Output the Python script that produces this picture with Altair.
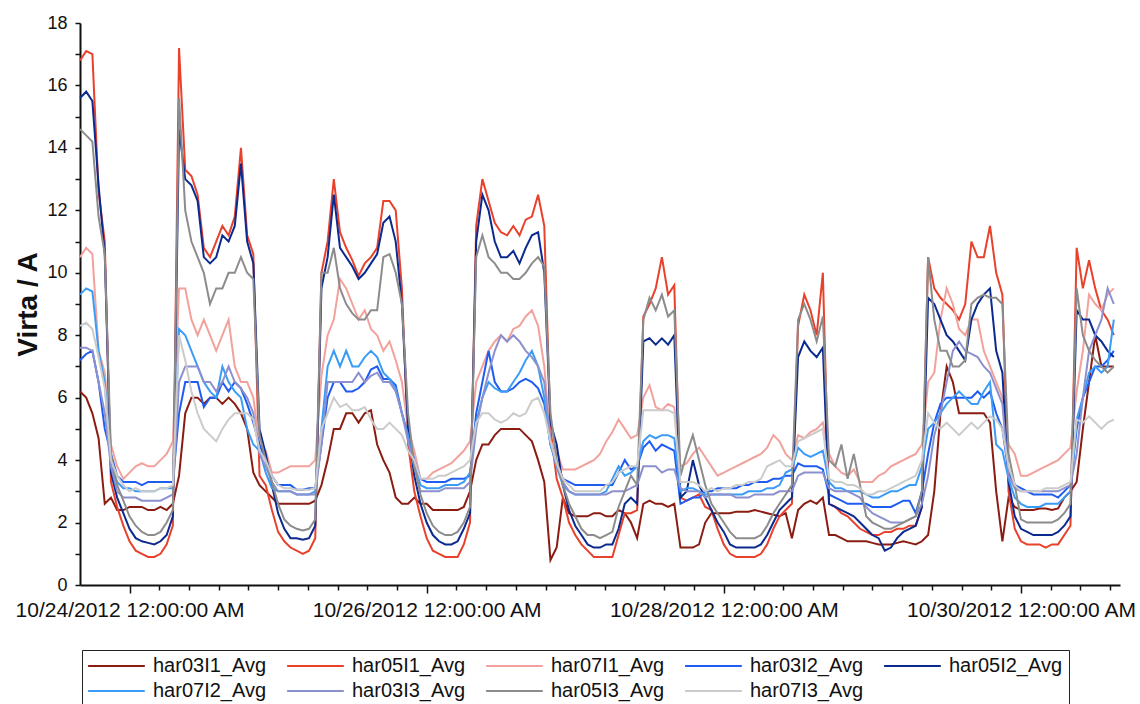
import altair as alt
import pandas as pd

# Hourly averages of harmonic currents (A), first sample 10/23/2012 16:00 UTC
START = "2012-10-23 16:00"

har03I1_Avg = [
    6.2, 6.0, 5.5, 4.7, 2.6, 2.8, 2.4, 2.4, 2.5, 2.5, 2.5, 2.4,
    2.4, 2.5, 2.4, 2.6, 3.5, 5.5, 6.0, 6.0, 5.8, 6.0, 6.0, 5.8,
    6.0, 5.8, 5.5, 5.0, 3.6, 3.2, 3.0, 2.8, 2.6, 2.6, 2.6, 2.6,
    2.6, 2.6, 2.7, 3.2, 4.0, 5.0, 5.0, 5.5, 5.5, 5.2, 5.5, 5.6,
    4.5, 4.0, 3.6, 2.8, 2.6, 2.6, 2.8, 2.6, 2.6, 2.4, 2.4, 2.4,
    2.4, 2.4, 2.5, 3.0, 4.0, 4.5, 4.5, 4.8, 5.0, 5.0, 5.0, 5.0,
    4.8, 4.6, 4.0, 3.3, 0.8, 1.2, 2.8, 2.3, 2.2, 2.2, 2.2, 2.3,
    2.3, 2.2, 2.2, 2.4, 2.3, 2.0, 1.5, 2.6, 2.7, 2.6, 2.6, 2.5,
    2.6, 1.2, 1.2, 1.2, 1.3, 2.0, 2.3, 2.3, 2.3, 2.3, 2.35, 2.35,
    2.35, 2.4, 2.35, 2.3, 2.25, 2.2, 2.3, 1.5, 2.4, 2.6, 2.7, 2.6,
    2.8, 1.6, 1.6, 1.5, 1.4, 1.4, 1.4, 1.4, 1.35, 1.3, 1.3, 1.3,
    1.35, 1.4, 1.35, 1.3, 1.4, 1.6, 3.0, 5.5, 7.0, 6.5, 5.5, 5.5,
    5.5, 5.5, 5.5, 5.2, 3.0, 1.4, 2.8, 2.5, 2.4, 2.4, 2.4, 2.45,
    2.45, 2.4, 2.45, 2.8, 3.0, 3.3, 5.0, 6.5, 8.0, 7.0, 7.0, 7.0,
]

har05I1_Avg = [
    16.8, 17.1, 17.0, 12.6, 11.0, 3.3, 2.5, 1.9, 1.4, 1.1, 1.0, 0.9,
    0.9, 1.0, 1.3, 1.9, 17.2, 13.3, 13.1, 12.5, 10.8, 10.5, 11.0, 11.5,
    11.2, 11.8, 14.0, 11.2, 10.6, 3.5, 3.2, 2.4, 1.7, 1.4, 1.2, 1.1,
    1.0, 1.1, 1.5, 10.0, 11.0, 13.0, 11.3, 10.8, 10.4, 9.9, 10.3, 10.5,
    10.8, 12.3, 12.3, 12.0, 9.5, 4.5, 3.0, 2.2, 1.5, 1.1, 1.0, 0.9,
    0.9, 0.9, 1.3, 2.0, 11.5, 13.0, 12.3, 11.6, 11.3, 11.2, 11.5, 11.2,
    11.7, 11.8, 12.5, 11.5, 5.0, 3.4, 2.8, 2.0, 1.6, 1.3, 1.1, 0.9,
    0.9, 0.9, 0.9, 1.6, 2.3, 2.3, 2.4, 8.6, 9.0, 9.5, 10.5, 9.3,
    9.6, 2.8, 2.7, 2.8, 2.9, 2.5, 2.4, 1.8, 1.3, 1.0, 0.9, 0.9,
    0.9, 0.9, 1.0, 1.3, 1.8, 2.2, 2.4, 2.6, 8.3, 9.3, 8.8, 8.0,
    10.0, 2.6, 2.5, 2.3, 2.2, 2.0, 1.8, 1.7, 1.6, 1.6, 1.7, 1.7,
    1.8, 1.8, 1.9, 1.9, 2.5, 10.5, 9.5, 9.2, 9.0, 8.8, 8.5, 9.0,
    11.0, 10.5, 10.5, 11.5, 10.0, 9.3, 3.0, 1.8, 1.4, 1.3, 1.3, 1.3,
    1.2, 1.3, 1.3, 1.6, 1.9, 10.8, 9.5, 10.4, 9.5, 8.8, 8.5, 8.0,
]

har07I1_Avg = [
    10.5, 10.8, 10.6, 7.5, 6.8, 4.5, 3.8, 3.4, 3.6, 3.8, 3.9, 3.8,
    3.8, 4.0, 4.2, 4.6, 9.5, 9.5, 8.5, 8.0, 8.5, 8.0, 7.5, 8.0,
    8.5, 7.0, 6.5, 6.5, 6.0, 4.5, 4.3, 3.6, 3.6, 3.7, 3.8, 3.8,
    3.8, 3.8, 4.0, 6.7, 8.0, 8.5, 9.8, 9.5, 9.0, 8.5, 8.8, 8.2,
    8.0, 7.5, 7.8, 7.2, 6.5, 5.0, 4.3, 3.4, 3.4, 3.6, 3.7, 3.8,
    3.9, 4.1, 4.3, 4.6, 6.5, 7.0, 7.5, 7.8, 8.0, 7.8, 8.2, 8.3,
    8.6, 8.8, 8.3, 7.0, 4.6, 4.3, 3.7, 3.7, 3.7, 3.8, 3.9, 4.0,
    4.2, 4.6, 4.9, 5.3, 5.0, 4.7, 4.8, 6.0, 6.4, 5.7, 5.6, 5.8,
    5.7, 3.8, 3.9, 4.2, 4.4, 4.1, 3.8, 3.5, 3.6, 3.7, 3.8, 3.9,
    4.0, 4.1, 4.2, 4.4, 4.8, 4.6, 4.2, 4.0, 4.8, 4.7, 4.9, 5.0,
    5.2, 4.2, 3.8, 3.6, 3.5, 3.7, 3.3, 3.3, 3.3, 3.5, 3.6, 3.8,
    3.9, 4.0, 4.1, 4.2, 4.5, 6.5, 6.8, 8.5, 9.5, 9.0, 8.2, 8.0,
    8.5, 8.5, 7.5, 7.0, 6.5, 6.0, 4.5, 4.2, 3.5, 3.5, 3.6, 3.7,
    3.8, 3.9, 4.0, 4.2, 4.4, 6.2, 7.5, 9.3, 9.0, 8.8, 9.3, 9.5,
]

har03I2_Avg = [
    7.2, 7.4, 7.5, 6.5, 5.0, 4.2, 3.5, 3.3, 3.3, 3.3, 3.2, 3.3,
    3.3, 3.3, 3.3, 3.3, 5.5, 6.5, 6.5, 6.5, 5.7, 6.0, 6.0, 6.5,
    6.2, 6.5, 6.3, 5.8, 5.2, 4.5, 4.0, 3.5, 3.2, 3.2, 3.2, 3.05,
    3.05, 3.1, 3.1, 4.5, 6.0, 6.5, 6.5, 6.2, 6.2, 6.3, 6.5, 6.9,
    7.0, 6.6, 6.6, 6.4, 5.5, 4.8, 4.0, 3.4, 3.3, 3.3, 3.3, 3.3,
    3.4, 3.4, 3.4, 3.5, 5.5, 6.5, 7.5, 6.5, 6.2, 6.2, 6.3, 6.5,
    6.6, 6.5, 6.3, 5.8, 4.5, 3.9, 3.4, 3.3, 3.2, 3.2, 3.2, 3.2,
    3.2, 3.2, 3.2, 3.6, 4.0, 3.7, 3.8, 4.4, 4.6, 4.3, 4.5, 4.4,
    4.3, 2.6, 2.7, 2.8, 2.8, 3.0, 3.0, 3.1, 3.1, 3.1, 3.1, 3.2,
    3.2, 3.3, 3.3, 3.3, 3.4, 3.4, 3.5, 3.5, 3.9, 3.8, 3.8, 3.8,
    3.7, 2.9, 2.8, 2.7, 2.6, 2.6, 2.6, 2.6, 2.5, 2.5, 2.5, 2.5,
    2.6, 2.7, 2.7, 2.3, 3.0, 4.2, 5.2, 5.8, 6.0, 6.0, 6.0, 6.0,
    6.0, 6.2, 6.0, 6.2, 5.5, 5.0, 3.6, 3.2, 3.1, 3.0, 2.9, 2.9,
    2.9, 2.9, 2.8, 3.0, 3.2, 5.0, 6.0, 6.5, 7.0, 7.0, 7.2, 7.5,
]

har05I2_Avg = [
    15.6, 15.8, 15.5, 12.8, 10.6, 3.6, 2.8, 2.3, 1.8, 1.5, 1.4, 1.35,
    1.3, 1.4, 1.6, 2.2, 14.6, 13.0, 12.8, 12.3, 10.5, 10.3, 10.5, 11.2,
    11.0, 11.5, 13.5, 11.0, 10.3, 5.0, 4.2, 3.2, 2.3, 1.8, 1.5, 1.5,
    1.45, 1.5, 1.9, 9.5, 10.5, 12.5, 10.8, 10.5, 10.2, 9.8, 10.0, 10.3,
    10.6, 11.6, 11.8, 11.0, 9.0, 5.0, 3.5, 2.6, 2.0, 1.6, 1.4, 1.3,
    1.3, 1.4, 1.8, 2.3, 11.0, 12.5, 12.0, 11.0, 10.5, 10.5, 10.7, 10.3,
    10.8, 11.2, 11.3, 10.0, 5.2, 4.5, 3.2, 2.4, 1.9, 1.6, 1.3, 1.2,
    1.2, 1.3, 1.3, 1.8, 2.6, 2.8, 2.6, 7.8, 7.9, 7.7, 7.9, 7.7,
    8.0, 2.8, 3.0, 4.0, 3.2, 2.8, 2.4, 2.0, 1.7, 1.3, 1.2, 1.2,
    1.2, 1.2, 1.3, 1.6, 2.0, 2.4, 2.6, 2.8, 7.3, 7.8, 7.5, 7.3,
    7.6, 2.6, 2.5, 2.4, 2.3, 2.2, 2.0, 1.8, 1.6, 1.5, 1.1, 1.2,
    1.5, 1.7, 1.8, 1.9, 2.5, 9.2, 9.0, 8.5, 8.0, 7.8, 7.5, 7.2,
    8.5, 9.0, 9.3, 9.5, 7.5, 6.8, 3.3, 2.2, 1.8, 1.7, 1.6, 1.6,
    1.6, 1.6, 1.7, 1.9, 2.2, 8.8, 8.5, 8.5, 8.0, 7.8, 7.5, 7.3,
]

har07I2_Avg = [
    9.3, 9.5, 9.4, 7.5, 6.5, 3.8, 3.3, 3.1, 3.1, 3.0, 3.0, 3.0,
    3.0, 3.1, 3.1, 3.1, 8.2, 8.0, 7.5, 7.0, 6.5, 6.2, 6.0, 7.0,
    6.5, 6.2, 6.0, 5.0, 4.5, 4.3, 3.6, 3.1, 3.0, 3.0, 3.0, 2.9,
    2.9, 2.9, 3.0, 5.0, 7.0, 7.5, 7.0, 7.5, 7.0, 7.0, 7.3, 7.5,
    7.3, 6.8, 6.6, 6.3, 5.5, 4.8, 3.9, 3.2, 3.1, 3.1, 3.1, 3.2,
    3.2, 3.2, 3.3, 3.6, 5.2, 6.0, 6.5, 6.3, 6.2, 6.2, 6.5, 6.8,
    7.2, 7.5, 7.0, 6.0, 4.5, 3.8, 3.2, 3.0, 2.9, 2.9, 2.9, 2.9,
    2.9, 3.0, 3.4, 3.8, 3.5, 3.6, 3.8, 4.6, 4.8, 4.7, 4.8, 4.8,
    4.7, 3.0, 3.1, 3.1, 3.0, 2.9, 2.9, 2.9, 2.9, 2.9, 2.9, 2.9,
    3.0, 3.0, 3.0, 3.1, 3.1, 3.2, 3.6, 3.7, 4.4, 4.2, 4.1, 4.2,
    4.3, 3.3, 3.1, 3.1, 3.0, 3.0, 3.0, 2.9, 2.8, 2.8, 2.9, 3.0,
    3.0, 3.1, 3.2, 3.2, 3.8, 5.0, 5.2, 5.5, 5.8, 6.0, 6.2, 6.0,
    5.8, 5.8, 6.2, 6.5, 4.5, 4.3, 3.4, 2.8, 2.6, 2.5, 2.5, 2.5,
    2.6, 2.6, 2.6, 2.8, 3.0, 5.3, 6.0, 6.8, 7.0, 6.8, 7.0, 8.5,
]

har03I3_Avg = [
    7.6, 7.6, 7.5, 6.5, 5.5, 3.8, 3.0, 2.8, 2.8, 2.8, 2.7, 2.7,
    2.7, 2.7, 2.8, 2.9, 6.5, 7.0, 7.0, 7.0, 6.5, 6.5, 6.2, 6.5,
    7.0, 6.5, 6.3, 6.0, 5.5, 4.2, 3.8, 3.3, 3.0, 3.0, 3.0, 2.9,
    2.9, 2.9, 2.9, 4.5, 6.5, 6.5, 6.5, 6.5, 6.5, 6.8, 6.5, 6.7,
    6.8, 6.5, 6.5, 6.2, 5.5, 4.6, 3.8, 3.0, 3.0, 3.0, 3.0, 3.1,
    3.1, 3.1, 3.1, 3.3, 5.0, 6.0, 6.8, 7.5, 8.0, 7.8, 8.0, 7.8,
    7.5, 7.3, 7.0, 6.5, 4.6, 3.8, 3.3, 3.0, 2.9, 2.9, 2.9, 2.9,
    2.9, 2.9, 3.0, 3.0, 3.0, 3.1, 3.2, 3.8, 3.8, 3.8, 3.6, 3.7,
    3.7, 3.1, 3.0, 3.0, 3.0, 2.8, 2.9, 2.9, 2.9, 2.9, 2.8, 2.8,
    2.8, 2.9, 2.9, 2.9, 2.9, 3.0, 3.0, 3.0, 3.5, 3.6, 3.6, 3.6,
    3.6, 3.1, 3.0, 3.0, 3.0, 2.9, 2.8, 2.5, 2.3, 2.2, 2.1, 2.0,
    2.0, 2.0, 2.1, 2.2, 2.6, 3.5, 4.8, 5.5, 6.5, 7.5, 7.8, 7.5,
    7.4, 7.3, 7.0, 6.8, 6.3, 5.8, 3.5, 3.1, 3.0, 3.0, 3.0, 3.0,
    3.0, 3.0, 3.0, 3.1, 3.2, 4.2, 6.0, 7.5, 8.0, 8.5, 9.5, 9.0,
]

har05I3_Avg = [
    14.6, 14.4, 14.2, 11.8, 10.6, 4.2, 3.2, 2.7, 2.2, 1.9, 1.7, 1.6,
    1.6, 1.7, 2.0, 2.4, 15.6, 12.0, 11.0, 10.5, 10.0, 9.0, 9.5, 9.5,
    10.0, 10.0, 10.5, 10.0, 9.8, 4.8, 4.0, 3.3, 2.6, 2.1, 1.9, 1.8,
    1.75, 1.8, 2.1, 10.0, 10.0, 10.8, 9.5, 9.0, 8.7, 8.5, 8.5, 8.8,
    8.8, 10.5, 10.6, 10.0, 9.0, 5.5, 3.8, 2.9, 2.3, 1.9, 1.7, 1.6,
    1.6, 1.7, 2.0, 2.5, 10.5, 11.2, 10.5, 10.3, 10.0, 10.0, 9.8, 9.8,
    10.0, 10.3, 10.5, 10.2, 5.5, 4.0, 3.2, 2.6, 2.2, 1.8, 1.6, 1.6,
    1.5, 1.6, 1.7, 2.5, 3.0, 3.5, 3.2, 8.5, 9.2, 8.8, 9.3, 8.6,
    8.8, 3.5, 4.2, 4.8, 4.0, 3.2, 2.6, 2.3, 2.0, 1.7, 1.5, 1.5,
    1.5, 1.5, 1.6, 1.9, 2.3, 2.6, 2.9, 3.2, 8.5, 9.0, 8.5, 7.8,
    8.6, 4.0, 3.8, 4.5, 3.4, 4.2, 3.2, 2.2, 2.0, 1.9, 1.8, 1.8,
    1.9, 2.0, 2.1, 2.2, 3.0, 10.5, 8.5, 7.5, 7.5, 7.0, 7.0, 7.2,
    9.0, 9.2, 9.3, 9.2, 9.2, 9.0, 4.2, 3.2, 2.1, 2.0, 2.0, 2.0,
    2.0, 2.0, 2.1, 2.3, 2.6, 9.5, 8.0, 7.5, 7.2, 7.0, 6.8, 7.0,
]

har07I3_Avg = [
    8.3, 8.4, 8.2, 7.3, 6.3, 4.0, 3.5, 3.2, 3.0, 3.1, 3.0, 3.0,
    3.0, 3.1, 3.1, 3.2, 8.0, 7.2, 6.2, 5.5, 5.0, 4.8, 4.6, 5.0,
    5.3, 5.5, 5.5, 5.5, 5.3, 4.3, 4.0, 3.5, 3.2, 3.1, 3.1, 3.05,
    3.05, 3.05, 3.1, 5.0, 5.5, 6.0, 5.7, 5.8, 5.6, 5.6, 5.7, 5.3,
    5.0, 5.0, 5.2, 5.0, 4.8, 4.3, 4.0, 3.4, 3.4, 3.4, 3.5, 3.5,
    3.6, 3.7, 3.8, 4.0, 5.2, 5.5, 5.5, 5.3, 5.2, 5.3, 5.5, 5.4,
    5.5, 5.9, 6.0, 5.5, 4.6, 3.9, 3.4, 3.2, 3.0, 3.0, 3.0, 3.0,
    3.0, 3.2, 3.3, 3.6, 3.7, 3.8, 3.8, 5.6, 5.6, 5.6, 5.6, 5.6,
    5.5, 3.3, 3.3, 3.3, 3.2, 3.0, 3.1, 3.0, 3.1, 3.1, 3.2, 3.2,
    3.3, 3.3, 3.4, 3.8, 3.9, 4.0, 3.8, 3.8, 4.6, 4.7, 4.8, 4.9,
    5.0, 3.4, 3.3, 3.3, 3.2, 3.2, 3.1, 2.9, 2.9, 3.0, 3.0, 3.1,
    3.2, 3.3, 3.4, 3.5, 4.0, 5.5, 5.2, 5.0, 5.2, 5.0, 4.8, 5.0,
    5.2, 5.0, 5.2, 5.4, 5.3, 5.0, 3.8, 3.2, 3.0, 3.0, 3.0, 3.0,
    3.1, 3.1, 3.1, 3.2, 3.3, 5.3, 5.2, 5.4, 5.2, 5.0, 5.2, 5.3,
]

SERIES_NAMES = [
    "har03I1_Avg", "har05I1_Avg", "har07I1_Avg", "har03I2_Avg", "har05I2_Avg",
    "har07I2_Avg", "har03I3_Avg", "har05I3_Avg", "har07I3_Avg",
]
SERIES_COLORS = [
    "#8B1C12", "#E8412C", "#F2A29C", "#1F5CF2", "#0B2A8F",
    "#3B9CF6", "#8D90CE", "#8C8C8C", "#CBCBCB",
]
SERIES_VALUES = [
    har03I1_Avg, har05I1_Avg, har07I1_Avg, har03I2_Avg, har05I2_Avg,
    har07I2_Avg, har03I3_Avg, har05I3_Avg, har07I3_Avg,
]

times = pd.date_range(START, periods=len(har03I1_Avg), freq="h")
records = []
for name, values in zip(SERIES_NAMES, SERIES_VALUES):
    assert len(values) == len(times)
    for ts, v in zip(times, values):
        records.append({"time": ts.strftime("%Y-%m-%dT%H:%M:%SZ"), "series": name, "value": v})
df = pd.DataFrame(records)


def dt(ts):
    return alt.DateTime(year=ts.year, month=ts.month, date=ts.day,
                        hours=ts.hour, minutes=ts.minute, utc=True)


# ticks every 4.8 h from midnight 10/24; every other midnight gets a label
tick_times = pd.date_range("2012-10-24 00:00", "2012-10-30 16:00", freq="288min")
tick_values = [dt(ts) for ts in tick_times]
x_domain = [dt(pd.Timestamp("2012-10-23 16:00")), dt(pd.Timestamp("2012-10-30 16:00"))]

MAJOR = "utchours(datum.value) == 0 && utcminutes(datum.value) == 0 && utcdate(datum.value) % 2 == 0"
FONT = "Liberation Sans"

x_axis = alt.Axis(
    values=tick_values,
    labelExpr=f"{MAJOR} ? utcFormat(datum.value, '%m/%d/%Y %I:%M:%S %p') : ''",
    labelOverlap=False, labelBound=False, labelFlush=False, labelLimit=400,
    labelFont=FONT, labelFontSize=21, labelColor="#111111", labelPadding=6,
    tickSize={"condition": {"test": MAJOR, "value": 8}, "value": 5},
    tickColor="#111111", tickWidth=1.5,
    domainColor="#111111", domainWidth=2, grid=False, title=None,
)

y_axis = alt.Axis(
    values=list(range(0, 19)),
    labelExpr="datum.value % 2 == 0 ? datum.label : ''",
    labelOverlap=False, labelFont=FONT, labelFontSize=18, labelColor="#111111",
    labelPadding=8, tickSize=5, tickColor="#111111", tickWidth=1.5,
    domainColor="#111111", domainWidth=2, grid=False,
    title="Virta / A", titleFont=FONT, titleFontSize=28, titleFontWeight="bold",
    titleColor="#111111", titlePadding=4,
)

legend = alt.Legend(
    title=None, orient="none", legendX=2, legendY=627, direction="horizontal",
    columns=5, gridAlign="all", columnPadding=16, rowPadding=5, padding=6,
    symbolType="M-1.1,0H5.2", symbolSize=324, symbolStrokeWidth=2, symbolOffset=0,
    labelFont=FONT, labelFontSize=20, labelColor="#111111", labelOffset=45, labelLimit=300,
    strokeColor="#222222", fillColor="white",
)

base = alt.Chart(df).mark_line(strokeWidth=2).encode(
    x=alt.X("time:T", scale=alt.Scale(type="utc", domain=x_domain), axis=x_axis),
    y=alt.Y("value:Q", scale=alt.Scale(domain=[0, 18], nice=False), axis=y_axis),
    color=alt.Color("series:N", scale=alt.Scale(domain=SERIES_NAMES, range=SERIES_COLORS),
                    legend=legend),
)

# one layer per series so later series are drawn on top, in legend order
layers = [base.transform_filter(alt.datum.series == name) for name in SERIES_NAMES]

chart = alt.layer(*layers).properties(
    width=1040, height=562,
    autosize=alt.AutoSizeParams(type="none"),
    padding={"left": 80, "top": 23, "right": 20, "bottom": 119},
    background="white",
).configure_view(strokeWidth=0)

chart.save("out.html", embed_options={"renderer": "svg", "actions": False})
